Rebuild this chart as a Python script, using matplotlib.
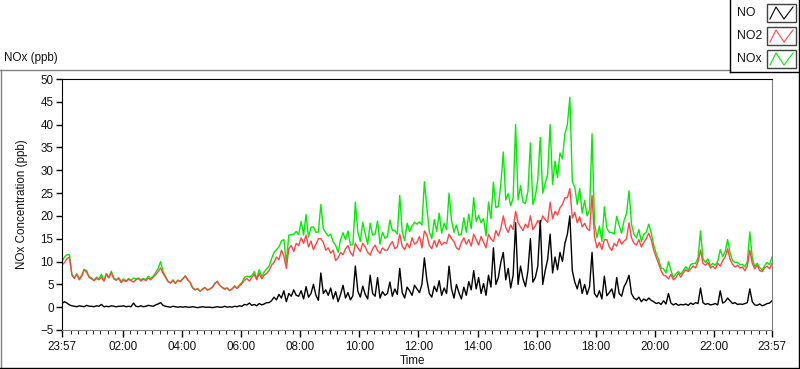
import numpy as np
import matplotlib
matplotlib.use("Agg")
import matplotlib.pyplot as plt
from matplotlib.lines import Line2D
from matplotlib.patches import Rectangle

# 5-minute readings, 23:57 -> 23:57 next day (one row per hour)
no = [
    0.8, 1.2, 0.9, 0.5, 0.3, 0.2, 0.1, 0.3, 0.2, 0.1, 0.4, 0.2,
    0.2, 0.1, 0.3, 0.2, 0.6, 0.1, 0.2, 0.1, 0.3, 0.2, 0.1, 0.2,
    0.2, 0.3, 0.1, 0.2, 0.1, 0.9, 0.2, 0.1, 0.3, 0.1, 0.2, 0.4,
    0.3, 0.2, 0.5, 0.7, 1.0, 0.4, 0.2, 0.1, 0.0, 0.2, 0.1, 0.0,
    0.1, 0.0, 0.1, 0.0, 0.0, 0.1, 0.0, -0.1, 0.0, 0.1, 0.0, 0.0,
    0.0, -0.1, 0.0, 0.1, 0.0, 0.0, 0.2, 0.0, 0.1, 0.0, 0.2, 0.1,
    0.3, 0.2, 0.6, 0.5, 0.9, 0.4, 0.6, 0.3, 0.8, 0.5, 0.7, 1.0,
    1.0, 1.4, 2.2, 1.6, 2.8, 2.0, 3.6, 1.2, 3.0, 2.4, 3.8, 2.6,
    2.4, 3.6, 1.8, 4.5, 2.2, 3.0, 5.0, 2.6, 1.5, 7.5, 3.0, 3.8,
    2.6, 4.2, 1.8, 3.4, 1.2, 2.8, 4.8, 2.0, 3.2, 1.6, 2.5, 9.0,
    3.5, 2.2, 4.6, 2.8, 1.8, 7.0, 3.0, 2.4, 6.5, 2.0, 3.4, 2.6,
    3.0, 5.5, 2.4, 4.0, 2.8, 8.5, 3.2, 2.0, 4.4, 3.6, 2.6, 4.8,
    4.0, 3.2, 5.0, 10.8, 6.0, 3.0, 2.2, 4.6, 3.4, 5.8, 2.6, 4.2,
    3.0, 9.0, 4.0, 2.0, 5.0, 3.2, 1.8, 4.4, 2.6, 5.6, 3.8, 8.0,
    4.0, 6.5, 3.0, 5.2, 2.6, 7.0, 4.4, 13.0, 5.0, 6.5, 9.8, 12.0,
    6.0, 8.5, 4.2, 7.0, 18.5, 5.0, 9.0, 6.2, 4.5, 8.0, 15.0, 5.5,
    6.5, 9.0, 19.0, 5.0, 8.0, 10.5, 16.0, 7.5, 11.0, 8.2, 12.0, 10.0,
    14.0, 16.0, 20.0, 8.0, 5.5, 4.0, 6.2, 3.0, 5.0, 2.8, 4.5, 12.0,
    3.0, 2.2, 3.6, 1.8, 6.8, 2.5, 3.2, 4.0, 2.0, 6.5, 3.0, 2.4,
    4.5, 5.5, 7.0, 3.0, 2.0, 1.6, 2.2, 1.2, 1.8, 1.4, 2.0, 1.5,
    1.2, 0.8, 1.0, 0.6, 1.4, 0.7, 3.0, 0.9, 0.5, 0.8, 0.4, 0.6,
    0.5, 0.7, 0.4, 0.9, 0.6, 1.0, 0.8, 4.2, 1.0, 0.6, 0.8, 0.5,
    0.6, 0.8, 0.5, 3.6, 0.9, 1.2, 2.0, 1.4, 0.8, 1.0, 0.6, 0.7,
    0.6, 0.8, 1.0, 4.0, 1.2, 0.5, 0.4, 0.7, 0.3, 0.5, 0.8, 0.9, 1.4,
]

no2 = [
    9.2, 9.8, 10.6, 11.0, 7.0, 6.3, 7.2, 6.0, 6.8, 8.2, 7.6, 6.5,
    6.2, 5.8, 6.3, 6.0, 6.6, 5.7, 7.2, 6.4, 7.6, 6.2, 5.9, 6.3,
    5.4, 5.9, 5.6, 6.1, 5.8, 5.5, 6.0, 6.3, 5.7, 6.2, 5.8, 6.4,
    6.0, 6.6, 7.1, 7.8, 8.6, 7.4, 6.5, 5.6, 5.3, 5.8, 5.2, 5.9,
    5.6, 6.2, 6.8, 6.0, 5.4, 4.2, 3.8, 4.1, 3.5, 3.9, 4.3, 3.7,
    4.0, 4.4, 5.2, 5.6, 4.8, 4.3, 3.9, 4.2, 3.6, 4.0, 4.5, 4.1,
    4.6, 5.2, 5.9, 6.3, 5.7, 6.5, 7.2, 6.0, 7.4, 6.2, 7.0, 7.4,
    8.0, 9.2, 9.8, 11.0, 10.4, 12.5, 11.2, 8.5, 12.8, 13.5, 12.2, 14.0,
    13.5, 15.2, 14.0, 15.8, 13.2, 14.5, 12.6, 13.8, 15.0, 15.0, 14.2, 12.5,
    13.0, 11.8, 12.5, 10.2, 10.8, 12.0, 11.5, 12.8, 13.5, 12.0, 11.2, 14.0,
    13.0, 12.2, 14.0, 13.2, 12.0, 11.4, 12.8, 13.6, 12.4, 11.8, 13.0, 12.5,
    12.5, 13.6, 14.4, 12.8, 13.2, 16.0, 13.4, 12.6, 14.0, 13.0, 15.2, 13.8,
    14.2, 15.5, 13.0, 16.7, 15.8, 13.5, 12.8, 14.6, 13.2, 14.8, 13.6, 14.2,
    14.0, 16.0, 15.0, 14.4, 13.0, 12.6, 14.2, 15.2, 13.8, 14.8, 13.4, 16.0,
    14.8, 13.6, 15.5, 14.2, 13.0, 16.0, 15.0, 14.4, 16.8, 15.6, 17.2, 20.0,
    17.5, 16.4, 18.0, 17.0, 21.0, 18.5, 17.6, 16.8, 18.2, 17.4, 20.0, 17.0,
    17.8, 19.0, 18.2, 20.0, 19.2, 18.6, 23.0, 19.4, 21.0, 20.2, 21.8, 22.5,
    24.0, 24.0, 26.0, 19.5, 20.8, 18.5, 19.8, 17.6, 18.4, 17.2, 16.8, 24.5,
    15.5, 13.0, 14.2, 12.6, 14.8, 14.8, 13.2, 12.4, 14.0, 13.4, 15.0, 13.8,
    14.5, 15.0, 18.5, 15.2, 14.0, 13.6, 14.8, 13.2, 14.2, 15.0, 16.2, 14.8,
    12.5, 11.0, 9.5, 8.0, 7.0, 6.8, 6.2, 7.2, 6.0, 6.5, 7.4, 6.6,
    7.5, 8.2, 7.8, 8.4, 9.0, 8.6, 10.0, 12.5, 9.6, 9.2, 9.8, 8.6,
    9.0, 8.4, 9.6, 9.0, 10.2, 11.0, 12.8, 10.5, 9.4, 8.8, 9.2, 8.6,
    8.8, 8.0, 9.0, 12.5, 9.6, 8.4, 9.2, 8.0, 7.8, 8.6, 9.0, 8.4, 9.6,
]

nox = [
    10.0, 11.0, 11.5, 11.5, 7.3, 6.5, 7.3, 6.3, 7.0, 8.3, 8.0, 6.7,
    6.4, 5.9, 6.6, 6.2, 7.2, 5.8, 7.4, 6.5, 7.9, 6.4, 6.0, 6.5,
    5.6, 6.2, 5.7, 6.3, 5.9, 6.4, 6.2, 6.4, 6.0, 6.3, 6.0, 6.8,
    6.3, 6.8, 7.6, 8.5, 10.0, 7.8, 6.7, 5.7, 5.3, 6.0, 5.3, 5.9,
    5.7, 6.2, 6.9, 6.0, 5.4, 4.3, 3.8, 4.0, 3.5, 4.0, 4.3, 3.7,
    4.0, 4.3, 5.2, 5.7, 4.8, 4.3, 4.1, 4.2, 3.7, 4.0, 4.7, 4.2,
    4.9, 5.4, 6.5, 6.8, 6.6, 6.9, 7.8, 6.3, 8.2, 6.7, 7.7, 8.4,
    9.0, 10.6, 12.0, 12.6, 13.2, 14.5, 14.8, 9.7, 15.8, 15.9, 16.0, 16.6,
    15.9, 18.8, 15.8, 20.3, 15.4, 17.5, 17.6, 16.4, 16.5, 22.5, 17.2, 16.3,
    15.6, 16.0, 14.3, 13.6, 12.0, 14.8, 16.3, 14.8, 16.7, 13.6, 13.7, 23.0,
    16.5, 14.4, 18.6, 16.0, 13.8, 18.4, 15.8, 16.0, 18.9, 13.8, 16.4, 15.1,
    15.5, 19.1, 16.8, 16.8, 16.0, 24.5, 16.6, 14.6, 18.4, 16.6, 17.8, 18.6,
    18.2, 18.7, 18.0, 27.5, 21.8, 16.5, 15.0, 19.2, 16.6, 20.6, 16.2, 18.4,
    17.0, 25.0, 19.0, 16.4, 18.0, 15.8, 16.0, 19.6, 16.4, 20.4, 17.2, 24.0,
    18.8, 20.1, 18.5, 19.4, 15.6, 23.0, 19.4, 27.4, 21.8, 22.1, 27.0, 34.0,
    23.5, 24.9, 22.2, 24.0, 40.0, 23.5, 26.6, 23.0, 22.7, 25.4, 36.0, 22.5,
    24.3, 28.0, 37.2, 25.0, 27.2, 29.1, 40.0, 26.9, 32.0, 28.4, 33.8, 32.5,
    38.0, 40.0, 46.0, 27.5, 26.3, 22.5, 26.0, 20.6, 23.4, 20.0, 21.3, 38.0,
    18.5, 15.2, 17.8, 14.4, 22.0, 17.3, 16.4, 16.4, 16.0, 19.9, 18.0, 16.2,
    19.0, 20.5, 25.5, 18.2, 16.0, 15.2, 17.0, 14.4, 16.0, 16.4, 18.2, 16.3,
    13.7, 11.8, 10.5, 8.6, 8.4, 7.5, 10.0, 8.1, 6.5, 7.3, 7.8, 7.2,
    8.0, 8.9, 8.2, 9.3, 9.6, 9.6, 10.8, 16.7, 10.6, 9.8, 10.6, 9.1,
    9.6, 9.2, 10.1, 12.6, 11.1, 12.2, 14.8, 11.9, 10.2, 9.8, 9.8, 9.3,
    9.4, 8.8, 10.0, 16.5, 10.8, 8.9, 9.6, 8.7, 8.1, 9.1, 9.8, 9.3, 11.0,
]

tick_labels = ["23:57", "02:00", "04:00", "06:00", "08:00", "10:00", "12:00",
               "14:00", "16:00", "18:00", "20:00", "22:00", "23:57"]

series_names = ["NO", "NO2", "NOx"]
series_colors = ["#000000", "#ff4545", "#00ee00"]

plt.rcParams['font.family'] = ['Liberation Sans', 'DejaVu Sans']
plt.rcParams['font.size'] = 8.4
txt = "#111111"

# hours since 23:57
t = np.arange(len(no)) * 5 / 60.0

W, H = 800, 369
def fx(x):
    return x / W
def fy(y):
    return 1 - y / H

fig = plt.figure(figsize=(8, 3.69), dpi=100)
ax = fig.add_axes([fx(62), fy(330), 710 / W, 251 / H])

ax.plot(t, nox, color=series_colors[2], lw=1)
ax.plot(t, no2, color=series_colors[1], lw=1)
ax.plot(t, no, color=series_colors[0], lw=1)

ax.set_xlim(0, 24)
ax.set_ylim(-5, 50)
ax.set_yticks(np.arange(-5, 51, 5))
major = [0] + [2.05 + 2 * i for i in range(11)] + [24]
ax.set_xticks(major)
ax.set_xticklabels(tick_labels)
minor = [0.05 + 0.25 * k for k in range(1, 96) if k % 8 != 0]
ax.set_xticks(minor, minor=True)

ax.tick_params(axis='both', direction='out', colors='black', labelcolor=txt, width=1)
ax.tick_params(axis='y', length=4, pad=2)
ax.tick_params(axis='x', which='major', length=5, pad=3)
ax.tick_params(axis='x', which='minor', length=3)

for s in ['left', 'top']:
    ax.spines[s].set_color('black')
for s in ['right', 'bottom']:
    ax.spines[s].set_color('#808080')

fig.text(fx(22), fy(204), "NOx Concentration (ppb)", rotation=90,
         ha='center', va='center', color=txt)
fig.text(fx(412), fy(361), "Time", ha='center', va='center', color=txt)
fig.text(fx(4), fy(58), "NOx (ppb)", ha='left', va='center', color=txt)

# outer frame and legend box
def line(x0, y0, x1, y1, c):
    fig.add_artist(Line2D([fx(x0), fx(x1)], [fy(y0), fy(y1)], color=c, lw=1))

line(0, 69.5, 730, 69.5, '#808080')
line(1, 69.5, 1, 368, '#808080')
line(0, 368, 800, 368, 'black')
line(799, 0, 799, 369, 'black')
line(730, 0, 730, 72, 'black')
line(730, 72, 799, 72, 'black')

for i, (name, c) in enumerate(zip(series_names, series_colors)):
    yc = 13 + 23 * i
    fig.text(fx(737), fy(yc), name, ha='left', va='center', color=txt, fontsize=8.8)
    fig.add_artist(Rectangle((fx(767), fy(yc + 9)), 29 / W, 18 / H,
                             transform=fig.transFigure, facecolor='white',
                             edgecolor='#404040', lw=1))
    zx = [770, 776, 784, 793]
    zy = [yc + 6, yc - 6, yc + 6, yc - 6]
    fig.add_artist(Line2D([fx(v) for v in zx], [fy(v) for v in zy], color=c, lw=0.8))

fig.savefig("out.png", dpi=100)
